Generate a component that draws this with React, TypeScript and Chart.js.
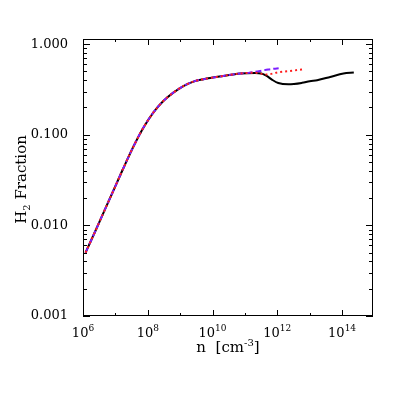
import React, { useEffect, useRef } from 'react';
import { Chart, registerables } from 'chart.js';

Chart.register(...registerables);

// Density n [cm^-3] and H2 fraction for the three runs
const nBlack = [1.2e6, 2.57e6, 5.25e6, 9.77e6, 1.76e7, 3.55e7, 7.24e7, 1.48e8, 3.02e8, 6.17e8, 1.26e9, 2.57e9, 5.25e9, 2.14e10, 7.08e10, 2.04e11, 3.2e11, 4.7e11, 6.8e11, 1.07e12, 2.2e12, 5.8e12, 1.0e13, 1.7e13, 4.3e13, 1.1e14, 2.3e14];
const fBlack = [0.00501, 0.00912, 0.01622, 0.0266, 0.0427, 0.0733, 0.1189, 0.1754, 0.2355, 0.2917, 0.3451, 0.3864, 0.4102, 0.4457, 0.4742, 0.4819, 0.475, 0.446, 0.406, 0.372, 0.360, 0.374, 0.390, 0.400, 0.435, 0.474, 0.486];

const nBlue = [1.2e6, 2.57e6, 5.25e6, 9.77e6, 1.76e7, 3.55e7, 7.24e7, 1.48e8, 3.02e8, 6.17e8, 1.26e9, 2.57e9, 5.25e9, 2.14e10, 7.08e10, 1.3e11, 2.0e11, 5.2e11, 1.1e12];
const fBlue = [0.00501, 0.00912, 0.01622, 0.0266, 0.0427, 0.0733, 0.1189, 0.1754, 0.2355, 0.2917, 0.3451, 0.3864, 0.4102, 0.4457, 0.4742, 0.482, 0.494, 0.525, 0.542];

const nRed = [1.2e6, 2.57e6, 5.25e6, 9.77e6, 1.76e7, 3.55e7, 7.24e7, 1.48e8, 3.02e8, 6.17e8, 1.26e9, 2.57e9, 5.25e9, 2.14e10, 7.08e10, 2.04e11, 4.7e11, 1.07e12, 2.2e12, 5.6e12, 6.3e12];
const fRed = [0.00501, 0.00912, 0.01622, 0.0266, 0.0427, 0.0733, 0.1189, 0.1754, 0.2355, 0.2917, 0.3451, 0.3864, 0.4102, 0.4457, 0.4742, 0.484, 0.462, 0.490, 0.503, 0.525, 0.528];

const xMin = 1e6;
const xMax = 9e14;
const yMin = 0.001;
const yMax = 1.14;

const xTickValues = [1e6, 1e8, 1e10, 1e12, 1e14];
const xTickBases = ['10', '10', '10', '10', '10'];
const xTickExps = ['6', '8', '10', '12', '14'];
const xMinorValues = [1e7, 1e9, 1e11, 1e13];
const yTickValues = [0.001, 0.01, 0.1, 1];
const yTickLabels = ['0.001', '0.010', '0.100', '1.000'];

const FONT = "'DejaVu Serif', serif";

const frameTicks = {
  id: 'frameTicks',
  afterDatasetsDraw(chart: any) {
    const { ctx, chartArea: a, scales } = chart;
    const xs = scales.x;
    const ys = scales.y;
    ctx.save();
    ctx.strokeStyle = '#000';
    ctx.lineWidth = 1;
    ctx.strokeRect(Math.round(a.left) + 0.5, Math.round(a.top) + 0.5, Math.round(a.right - a.left) - 1, Math.round(a.bottom - a.top) - 1);
    ctx.beginPath();
    const xt = (v: number, len: number) => {
      const px = Math.round(xs.getPixelForValue(v)) + 0.5;
      ctx.moveTo(px, a.bottom);
      ctx.lineTo(px, a.bottom - len);
      ctx.moveTo(px, a.top);
      ctx.lineTo(px, a.top + len);
    };
    const yt = (v: number, len: number) => {
      const py = Math.round(ys.getPixelForValue(v)) + 0.5;
      ctx.moveTo(a.left, py);
      ctx.lineTo(a.left + len, py);
      ctx.moveTo(a.right, py);
      ctx.lineTo(a.right - len, py);
    };
    xTickValues.forEach((v) => xt(v, 6));
    xMinorValues.forEach((v) => xt(v, 3));
    yTickValues.forEach((v) => yt(v, 7));
    yTickValues.forEach((d) => {
      for (let k = 2; k <= 9; k++) {
        const v = d * k;
        if (v <= yMax) yt(v, 4);
      }
    });
    ctx.stroke();

    // x tick labels: 10 with superscript exponent
    ctx.fillStyle = '#000';
    ctx.textBaseline = 'alphabetic';
    ctx.textAlign = 'left';
    xTickValues.forEach((v, i) => {
      const px = xs.getPixelForValue(v);
      ctx.font = `13px ${FONT}`;
      const wb = ctx.measureText(xTickBases[i]).width;
      ctx.font = `9px ${FONT}`;
      const we = ctx.measureText(xTickExps[i]).width;
      const x0 = px - (wb + we) / 2;
      ctx.font = `13px ${FONT}`;
      ctx.fillText(xTickBases[i], x0, a.bottom + 21);
      ctx.font = `9px ${FONT}`;
      ctx.fillText(xTickExps[i], x0 + wb, a.bottom + 15);
    });

    // x title: n [cm^-3]
    const cx = (a.left + a.right) / 2;
    const parts: [string, number, number][] = [
      ['n  [cm', 15, 0],
      ['-3', 10, -6],
      [']', 15, 0],
    ];
    let total = 0;
    parts.forEach(([t, s]) => {
      ctx.font = `${s}px ${FONT}`;
      total += ctx.measureText(t).width;
    });
    let x = cx - total / 2;
    parts.forEach(([t, s, dy]) => {
      ctx.font = `${s}px ${FONT}`;
      ctx.fillText(t, x, 352 + dy);
      x += ctx.measureText(t).width;
    });

    // y title: H2 Fraction (rotated)
    ctx.save();
    ctx.translate(26, (a.top + a.bottom) / 2 + 2);
    ctx.rotate(-Math.PI / 2);
    const yparts: [string, number, number][] = [
      ['H', 15, 0],
      ['2', 10, 4],
      [' Fraction', 15, 0],
    ];
    let ytot = 0;
    yparts.forEach(([t, s]) => {
      ctx.font = `${s}px ${FONT}`;
      ytot += ctx.measureText(t).width;
    });
    let yx = -ytot / 2;
    yparts.forEach(([t, s, dy]) => {
      ctx.font = `${s}px ${FONT}`;
      ctx.fillText(t, yx, dy);
      yx += ctx.measureText(t).width;
    });
    ctx.restore();
    ctx.restore();
  },
};

export default function App() {
  const ref = useRef<HTMLCanvasElement | null>(null);
  useEffect(() => {
    document.body.style.margin = '0';
    const canvas = ref.current;
    if (!canvas) return;
    const mk = (xs: number[], ys: number[]) => xs.map((x, i) => ({ x, y: ys[i] }));
    const chart = new Chart(canvas, {
      type: 'line',
      data: {
        datasets: [
          {
            data: mk(nBlack, fBlack),
            borderColor: '#000000',
            borderWidth: 2,
            pointRadius: 0,
            cubicInterpolationMode: 'monotone',
            fill: false,
            order: 2,
          },
          {
            data: mk(nBlue, fBlue),
            borderColor: 'rgb(125,30,255)',
            borderWidth: 2,
            borderDash: [6, 3],
            pointRadius: 0,
            cubicInterpolationMode: 'monotone',
            fill: false,
            order: 1,
          },
          {
            data: mk(nRed, fRed),
            borderColor: 'rgb(255,30,30)',
            borderWidth: 2,
            borderDash: [2, 3],
            pointRadius: 0,
            cubicInterpolationMode: 'monotone',
            fill: false,
            order: 0,
          },
        ],
      },
      options: {
        responsive: false,
        animation: false,
        devicePixelRatio: 1,
        layout: { padding: { top: 39, right: 42, left: 0, bottom: 0 } },
        plugins: { legend: { display: false }, tooltip: { enabled: false } },
        scales: {
          x: {
            type: 'logarithmic',
            min: xMin,
            max: xMax,
            grid: { display: false },
            border: { display: false },
            afterBuildTicks: (s: any) => {
              s.ticks = xTickValues.map((value) => ({ value }));
            },
            afterFit: (s: any) => {
              s.height = 82;
            },
            ticks: { display: false },
          },
          y: {
            type: 'logarithmic',
            min: yMin,
            max: yMax,
            grid: { display: false },
            border: { display: false },
            afterBuildTicks: (s: any) => {
              s.ticks = yTickValues.map((value) => ({ value }));
            },
            afterFit: (s: any) => {
              s.width = 83;
            },
            ticks: {
              autoSkip: false,
              padding: 7,
              color: '#000',
              font: { family: FONT, size: 13 },
              callback: (_v: any, i: number) => yTickLabels[i],
            },
          },
        },
      },
      plugins: [frameTicks],
    } as any);
    return () => chart.destroy();
  }, []);
  return <canvas ref={ref} width={415} height={398} style={{ display: 'block' }} />;
}
